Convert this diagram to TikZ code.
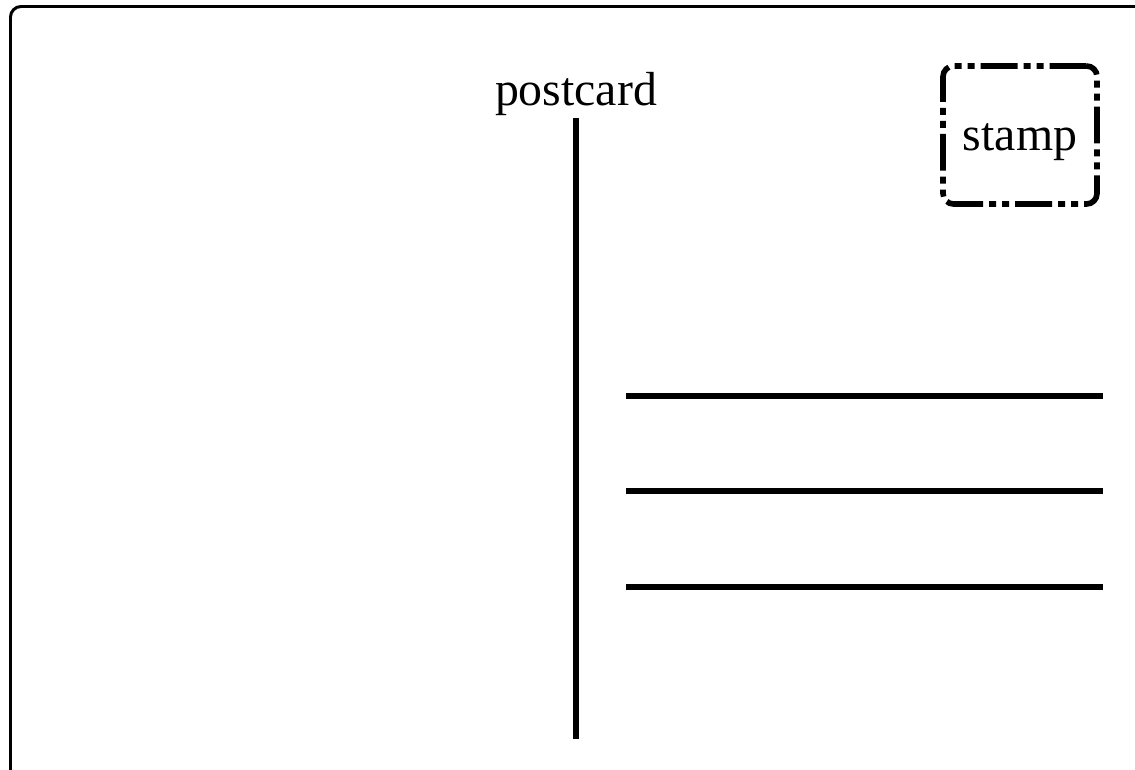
\documentclass[tikz,border=0pt]{standalone}
\usepackage{fontspec}
\setmainfont{Liberation Serif}
\usepackage{tikz}
\usetikzlibrary{positioning}

\begin{document}
\begin{tikzpicture}[x=0.02cm, y=-0.02cm,
    cardtext/.style={font=\fontsize{27.2}{32}\selectfont, inner sep=0pt},
    stampbox/.style={draw, rounded corners=6pt, line width=3.2pt,
      dash pattern=on 21pt off 3.4pt on 4pt off 3.4pt on 4pt off 3.4pt,
      minimum width=154*0.02cm, minimum height=138*0.02cm},
    addrline/.style={line width=3.2pt}]
    \useasboundingbox (0,0) rectangle (1135,770);
    \clip (0,0) rectangle (1135,770);

    \coordinate (CardTL) at (10.5, 6.5);
    \coordinate (CardBR) at (1200, 820);

    \coordinate (DivTop) at (576, 118);
    \coordinate (DivBot) at (576, 739);

    \coordinate (AL1) at (626, 396);
    \coordinate (AL1E) at (1103, 396);
    \coordinate (AL2) at (626, 491);
    \coordinate (AL2E) at (1103, 491);
    \coordinate (AL3) at (626, 587);
    \coordinate (AL3E) at (1103, 587);

    \draw [line width=1.7pt, rounded corners=6pt] (CardTL) rectangle (CardBR);

    \node [cardtext, anchor=base] (title) at (576, 106) {postcard};
    \draw [line width=3.4pt] (DivTop) to (DivBot);

    \node [stampbox] (stamp) at (1020, 135) {};
    \node [cardtext, anchor=base] (stamplabel) at (stamp.center) [yshift=-16*0.02cm] {stamp};

    \draw [addrline] (AL1) to (AL1E);
    \draw [addrline] (AL2) to (AL2E);
    \draw [addrline] (AL3) to (AL3E);
\end{tikzpicture}
\end{document}
